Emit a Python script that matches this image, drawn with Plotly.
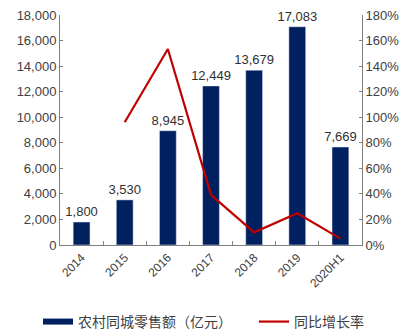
import plotly.graph_objects as go

categories = ["2014", "2015", "2016", "2017", "2018", "2019", "2020H1"]
sales = [1800, 3530, 8945, 12449, 13679, 17083, 7669]
growth = [None, 0.961, 1.534, 0.392, 0.099, 0.249, 0.05]

navy = "#002060"
red = "#C00000"
axis_col = "#7f7f7f"
txt = "#404040"
font_main = "Liberation Sans, Arial, sans-serif"
font_cjk = "Noto Sans CJK SC, sans-serif"

fig = go.Figure()
fig.add_trace(go.Bar(
    x=categories, y=sales, marker_color=navy, width=0.39,
    text=[f"{v:,}" for v in sales], textposition="outside",
    textfont=dict(size=13, color="#303030", family=font_main),
    constraintext="none", cliponaxis=False, showlegend=False,
))
fig.add_trace(go.Scatter(
    x=categories, y=growth, mode="lines", yaxis="y2",
    line=dict(color=red, width=2.2), showlegend=False,
))
# legend entries
fig.add_trace(go.Scatter(
    x=[None], y=[None], mode="lines", name="农村同城零售额（亿元）",
    line=dict(color=navy, width=6), legend="legend",
))
fig.add_trace(go.Scatter(
    x=[None], y=[None], mode="lines", name="同比增长率", yaxis="y2",
    line=dict(color=red, width=2.2), legend="legend2",
))

leg_common = dict(
    orientation="h", xref="container", yref="container",
    xanchor="left", y=0.036, yanchor="middle",
    font=dict(family=font_cjk, size=14, color=txt),
    itemwidth=30, bgcolor="rgba(0,0,0,0)",
)

fig.update_layout(
    width=407, height=334,
    margin=dict(l=60, r=45, t=15, b=89, autoexpand=False),
    plot_bgcolor="white", paper_bgcolor="white",
    bargap=0.61,
    font=dict(family=font_main, size=13, color=txt),
    xaxis=dict(
        type="category", showline=True, linecolor=axis_col, linewidth=1,
        ticks="inside", ticklen=4, tickcolor=axis_col, tickson="boundaries",
        tickangle=-45, tickfont=dict(size=12, color=txt),
        showgrid=False, automargin=False,
    ),
    yaxis=dict(
        range=[0, 18000], dtick=2000, tickformat=",",
        showline=True, linecolor=axis_col, linewidth=1,
        ticks="inside", ticklen=3, tickcolor=axis_col,
        showgrid=False, zeroline=False, tickfont=dict(size=13, color=txt),
        automargin=False,
    ),
    yaxis2=dict(
        range=[0, 1.8], dtick=0.2, tickformat=".0%", overlaying="y", side="right",
        showline=True, linecolor=axis_col, linewidth=1,
        ticks="inside", ticklen=3, tickcolor=axis_col,
        showgrid=False, zeroline=False, tickfont=dict(size=13, color=txt),
        automargin=False,
    ),
    legend=dict(x=38 / 407, **leg_common),
    legend2=dict(x=254 / 407, **leg_common),
)

fig.write_html("out.html")
